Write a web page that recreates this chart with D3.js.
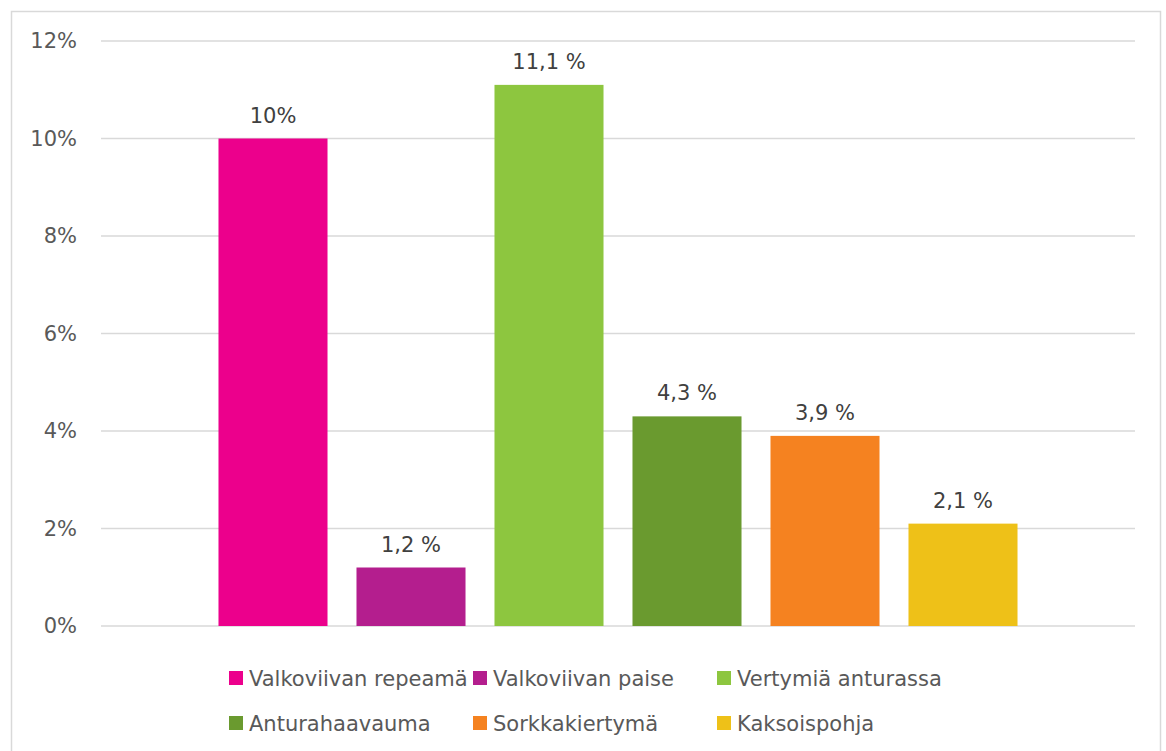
<!DOCTYPE html>
<html>
<head>
<meta charset="utf-8">
<script src="https://cdn.jsdelivr.net/npm/d3@7"></script>
<style>
  body { margin: 0; background: #fff; }
  svg { display: block; font-family: "DejaVu Sans", Verdana, sans-serif; }
</style>
</head>
<body>
<div id="vis"></div>
<script>
// chart data
const categories = ["Valkoviivan repeamä", "Valkoviivan paise", "Vertymiä anturassa",
  "Anturahaavauma", "Sorkkakiertymä", "Kaksoispohja"];
const values = [10, 1.2, 11.1, 4.3, 3.9, 2.1];
const valueLabels = ["10%", "1,2 %", "11,1 %", "4,3 %", "3,9 %", "2,1 %"];
const colors = ["#EC008C", "#B41E8E", "#8DC63F", "#6A9A2F", "#F58220", "#EEC118"];
const yTicks = [0, 2, 4, 6, 8, 10, 12];

const width = 1166, height = 751;
const margin = { top: 41, right: 31, bottom: 125, left: 101 };
const plotW = width - margin.left - margin.right;
const plotH = height - margin.top - margin.bottom;
const fontSize = 21;

const svg = d3.select("#vis").append("svg")
  .attr("width", width)
  .attr("height", height);

// chart frame
svg.append("rect")
  .attr("x", 11.5).attr("y", 11.5)
  .attr("width", 1149).attr("height", 760)
  .attr("fill", "none")
  .attr("stroke", "#d9d9d9")
  .attr("stroke-width", 1.5);

const g = svg.append("g")
  .attr("transform", `translate(${margin.left},${margin.top})`);

// scales
const y = d3.scaleLinear().domain([0, 12]).range([plotH, 0]);

// single group: bars step ~138px, width ~109px centred in plot
const pInner = 0.21;
const stepPx = 138;
const pOuter = (plotW / stepPx - categories.length + pInner) / 2;
const x = d3.scaleBand()
  .domain(categories)
  .range([0, plotW])
  .paddingInner(pInner)
  .paddingOuter(pOuter);

// gridlines
g.append("g")
  .selectAll("line")
  .data(yTicks)
  .join("line")
  .attr("x1", 0).attr("x2", plotW)
  .attr("y1", d => y(d)).attr("y2", d => y(d))
  .attr("stroke", "#d9d9d9")
  .attr("stroke-width", 1.5);

// y axis labels
const yAxis = g.append("g")
  .call(d3.axisLeft(y).tickValues(yTicks).tickFormat(d => d + "%").tickSize(0).tickPadding(24));
yAxis.select(".domain").remove();
yAxis.selectAll("text")
  .attr("fill", "#595959")
  .attr("font-size", fontSize)
  .attr("font-family", "DejaVu Sans, Verdana, sans-serif");

// bars
g.selectAll(".bar")
  .data(categories)
  .join("rect")
  .attr("class", "bar")
  .attr("x", d => x(d))
  .attr("width", x.bandwidth())
  .attr("y", (d, i) => y(values[i]))
  .attr("height", (d, i) => y(0) - y(values[i]))
  .attr("fill", (d, i) => colors[i]);

// data labels
g.selectAll(".val")
  .data(categories)
  .join("text")
  .attr("class", "val")
  .attr("x", d => x(d) + x.bandwidth() / 2)
  .attr("y", (d, i) => y(values[i]) - 16)
  .attr("text-anchor", "middle")
  .attr("fill", "#404040")
  .attr("font-size", fontSize)
  .text((d, i) => valueLabels[i]);

// legend, 3 columns x 2 rows
const legend = svg.append("g");
const colW = 244, rowH = 45;
const item = legend.selectAll("g")
  .data(categories)
  .join("g")
  .attr("transform", (d, i) => `translate(${229 + (i % 3) * colW},${678 + Math.floor(i / 3) * rowH})`);

item.append("rect")
  .attr("x", 0).attr("y", -7)
  .attr("width", 14).attr("height", 14)
  .attr("fill", (d, i) => colors[i]);

item.append("text")
  .attr("x", 20)
  .attr("dy", "0.36em")
  .attr("fill", "#595959")
  .attr("font-size", fontSize)
  .text(d => d);
</script>
</body>
</html>
